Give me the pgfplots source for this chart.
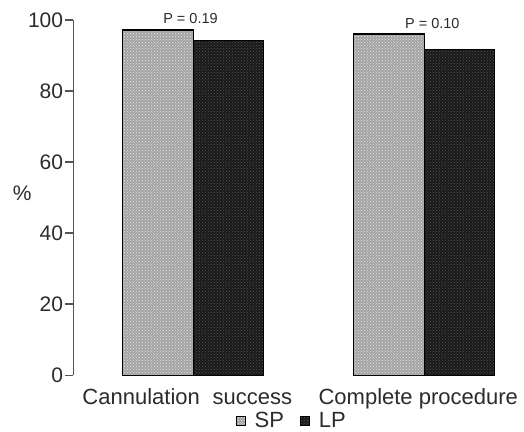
\documentclass[border=0pt]{standalone}
\usepackage{pgfplots}
\pgfplotsset{compat=1.18}
\usetikzlibrary{patterns}
\usepackage{fontspec}
\setmainfont{Liberation Sans}
\definecolor{txt}{HTML}{2B2B2B}
\definecolor{axc}{HTML}{555555}
\definecolor{spfill}{HTML}{A4A4A4}
\definecolor{lpfill}{HTML}{1A1A1A}
\definecolor{sppat}{HTML}{E6E6E6}
\definecolor{lppat}{HTML}{555555}
\begin{document}
\begin{tikzpicture}
\begin{axis}[name=ax, scale only axis, width=426.7pt, height=355.3pt,
  xmin=0.4805, xmax=2.328, ymin=0, ymax=100,
  ybar=0pt, bar width=0.305,
  clip=false,
  axis lines*=left,
  x axis line style={draw=none},
  y axis line style={draw=axc, line width=1.5pt},
  xtick={1,2},
  xticklabels={Cannulation\hspace{0.3em} success, Complete procedure},
  x tick style={draw=none},
  ytick={0,20,40,60,80,100},
  y tick style={draw=axc, line width=1.5pt},
  major tick length=8pt, tick align=outside,
  /pgf/number format/assume math mode=true,
  yticklabel style={font=\fontsize{21}{24}\selectfont, text=txt, inner sep=2pt},
  xticklabel style={font=\fontsize{22}{24}\selectfont, text=txt, xshift=-6pt, yshift=-2pt},
  ylabel={\%},
  ylabel style={rotate=-90, at={(axis description cs:-0.12,0.513)}, anchor=center, font=\fontsize{21}{24}\selectfont, text=txt},
  legend style={at={(0.512,-0.128)}, anchor=center, draw=none, fill=none,
    font=\fontsize{22}{24}\selectfont, text=txt, inner sep=0pt,
    /tikz/every even column/.append style={column sep=14pt}},
  legend columns=2,
  legend image code/.code={\draw[#1, line width=1pt] (0pt,-4.5pt) rectangle (9pt,4.5pt);},
]
\addplot[draw=black, line width=1.3pt, fill=spfill, postaction={pattern=crosshatch dots, pattern color=sppat}]
  coordinates {(1,97.2) (2,96.1)};
\addlegendentry{\hspace{7pt}SP}
\addplot[draw=black, line width=1.3pt, fill=lpfill, postaction={pattern=crosshatch dots, pattern color=lppat}]
  coordinates {(1,94.2) (2,91.6)};
\addlegendentry{\hspace{7pt}LP}
\node[font=\fontsize{14.5}{16}\selectfont, text=txt] at (axis cs:0.988,100.5) {P = 0.19};
\node[font=\fontsize{14.5}{16}\selectfont, text=txt] at (axis cs:2.035,99.1) {P = 0.10};
\end{axis}
\pgfresetboundingbox
\useasboundingbox ([shift={(-73.3pt,-55.7pt)}]ax.south west) rectangle ([shift={(450.7pt,375.3pt)}]ax.south west);
\end{tikzpicture}
\end{document}
